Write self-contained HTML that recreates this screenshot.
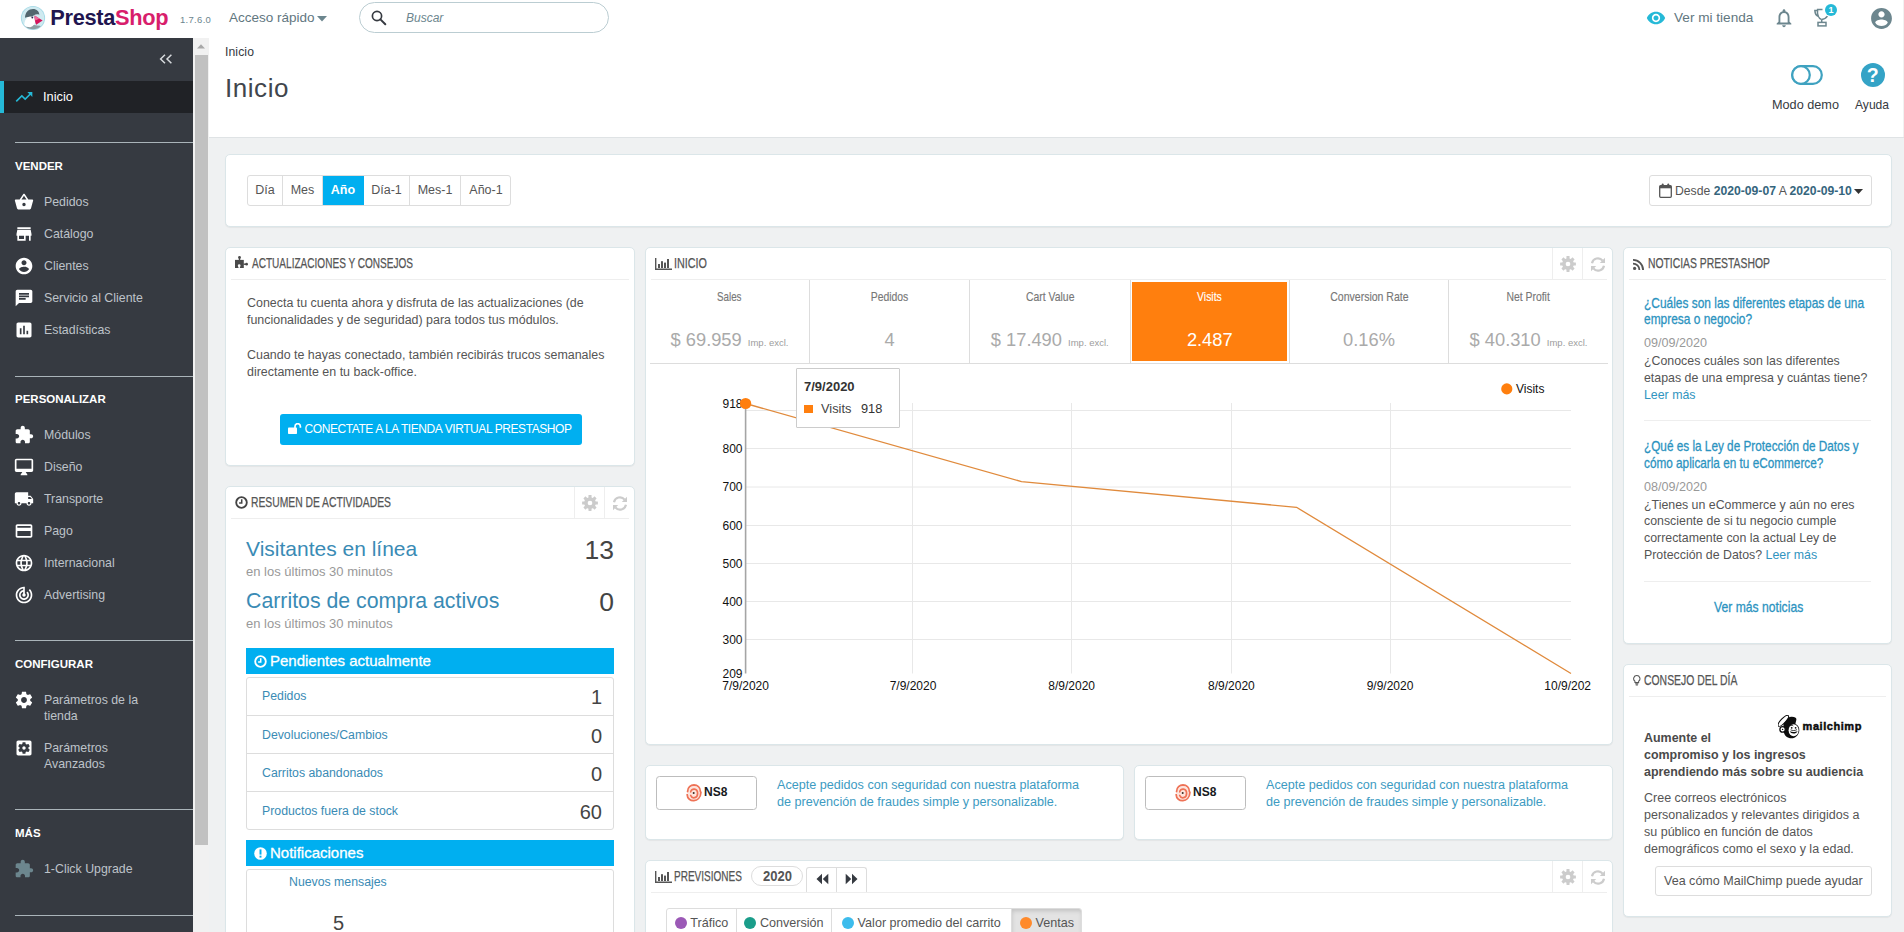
<!DOCTYPE html>
<html lang="es">
<head>
<meta charset="utf-8">
<title>Inicio • PrestaShop</title>
<style>
*{box-sizing:border-box;}
html,body{margin:0;padding:0;}
html{width:1904px;height:932px;overflow:hidden;}
body{width:1904px;height:932px;overflow:hidden;background:#eff1f2;font-family:"Liberation Sans",sans-serif;font-size:12px;color:#555;position:relative;}
a{text-decoration:none;color:#25b9d7;}
#app{position:absolute;left:0;top:0;width:1904px;height:932px;overflow:hidden;}
.abs{position:absolute;}
/* ---------- header ---------- */
#header{position:absolute;left:0;top:0;width:1904px;height:38px;background:#fff;}
#logo-txt{position:absolute;left:50.3px;top:4.8px;font-size:21.8px;line-height:26px;font-weight:bold;letter-spacing:-0.32px;color:#21154f;white-space:nowrap;}
#logo-txt span{color:#d81e6c;}
#version{position:absolute;left:180px;top:14px;font-size:9.5px;line-height:12px;color:#6c868e;letter-spacing:0.3px;}
#quick{position:absolute;left:229px;top:9px;font-size:13.5px;line-height:18px;color:#62777f;white-space:nowrap;}
#search{position:absolute;left:359px;top:2px;width:250px;height:31px;border:1px solid #bbcdd2;border-radius:16px;background:#fff;}
#search .ph{position:absolute;left:46px;top:8px;font-size:12px;font-style:italic;color:#6c868e;}
#vertienda{position:absolute;left:1674px;top:9px;font-size:13.6px;line-height:18px;color:#62777f;white-space:nowrap;}
/* ---------- sidebar ---------- */
#sidebar{position:absolute;left:0;top:38px;width:193px;height:894px;background:#363a41;color:#bec3c9;}
#sidebar .sep{position:absolute;left:15px;width:178px;height:1px;background:#aab4b9;}
#sidebar .cat{position:absolute;left:15px;font-size:11.5px;line-height:14px;font-weight:bold;color:#fff;letter-spacing:0px;}
#sidebar .it{position:absolute;left:44px;font-size:12.35px;line-height:16px;color:#bec3c9;white-space:nowrap;}
#sidebar .ic{position:absolute;left:15px;width:19px;height:19px;}
#sidebar .active{position:absolute;left:0;top:43px;width:193px;height:32px;background:#202226;border-left:4px solid #25b9d7;}
/* ---------- scrollbar ---------- */
#sb{position:absolute;left:193px;top:38px;width:16px;height:894px;background:#f1f1f1;}
#sb .thumb{position:absolute;left:2px;top:17px;width:13px;height:790px;background:#c1c1c1;}
/* ---------- page head ---------- */
#pagehead{position:absolute;left:209px;top:38px;width:1695px;height:100px;background:#fff;border-bottom:1px solid #dfe3e5;}
#crumb{position:absolute;left:16px;top:7px;font-size:12.2px;letter-spacing:0.1px;line-height:14px;color:#363a41;}
#title{position:absolute;left:16px;top:32.6px;font-size:26px;line-height:34px;color:#41464d;font-weight:normal;letter-spacing:0.55px;}
.tb-label{position:absolute;top:60px;font-size:12px;line-height:14px;color:#363a41;white-space:nowrap;}
/* ---------- panels ---------- */
.panel{position:absolute;background:#fff;border:1px solid #dbe6e9;border-radius:5px;box-shadow:0 1px 1px rgba(0,0,0,0.05);}
.ph{white-space:nowrap;}

.btng{position:absolute;height:31px;width:264px;border:1px solid #ddd;border-radius:3px;background:#fff;overflow:hidden;white-space:nowrap;font-size:0;}
.btng span{display:inline-block;height:29px;line-height:29px;text-align:center;font-size:12.5px;color:#555;border-right:1px solid #ddd;vertical-align:top;}
.btng span.on{background:#00aff0;color:#fff;font-weight:bold;border-right-color:#00aff0;}
.datebtn{position:absolute;left:1423px;top:20px;width:223px;height:31px;border:1px solid #ddd;border-radius:3px;background:#fff;}

.heading{-webkit-text-stroke:0.250px #555;position:absolute;top:7px;font-size:14px;line-height:16px;color:#555;white-space:nowrap;text-transform:uppercase;transform-origin:0 50%;}
.hline{position:absolute;left:5px;right:5px;top:31px;height:1px;background:#eee;}
.hbtn{position:absolute;top:0;width:30px;height:32px;border-left:1px solid #eee;}
.txt{position:absolute;white-space:nowrap;}
.bluebar{position:absolute;left:20px;width:368px;height:26px;background:#00aff0;color:#fff;}
.listbox{position:absolute;left:20px;width:368px;border:1px solid #ddd;border-radius:3px;background:#fff;}
.lrow{position:absolute;left:0;width:366px;height:38px;border-top:1px solid #ddd;}
.lrow .l{position:absolute;left:15px;top:12px;font-size:12.3px;line-height:14px;color:#3a8bb5;white-space:nowrap;}
.lrow .v{position:absolute;right:11px;top:8px;font-size:20px;line-height:24px;color:#444;}

.kpi{position:absolute;top:32px;height:83px;border-right:1px solid #ddd;}
.kpi .lab{position:absolute;left:0;right:0;top:8.5px;text-align:center;font-size:13px;line-height:16px;color:#777;white-space:nowrap;}
.kpi .lab span{display:inline-block;-webkit-text-stroke:0.15px currentColor;}
.kpi .val{position:absolute;left:0;right:0;top:48.7px;text-align:center;font-size:18.3px;line-height:22px;color:#aaa;white-space:nowrap;}
.kpi .val small{font-size:9.5px;color:#9d9d9d;margin-left:1px;}

.tabs span{display:inline-block;height:32px;line-height:29px;text-align:center;font-size:12.6px;color:#555;border-right:1px solid #ddd;vertical-align:top;}

.ntitle{-webkit-text-stroke:0.300px #2b93bf;position:absolute;left:20px;font-size:15px;line-height:16.7px;color:#2b93bf;white-space:nowrap;transform-origin:0 50%;}
.ndate{position:absolute;left:20px;font-size:12.6px;line-height:15px;color:#999;white-space:nowrap;}
.nbody{position:absolute;left:20px;font-size:12.37px;line-height:16.9px;color:#555;white-space:nowrap;}
.nbody a{color:#3094c0;}
</style>
</head>
<body>
<div id="app">

<!-- ================= HEADER ================= -->
<div id="header">
  <svg class="abs" style="left:20.1px;top:5px" width="26" height="26" viewBox="0 0 26 26">
    <defs><clipPath id="lc"><circle cx="13" cy="13" r="11.2"/></clipPath></defs>
    <circle cx="13" cy="13" r="12.1" fill="#a3d9e6"/>
    <circle cx="13" cy="13" r="11.2" fill="#cfeaf0"/>
    <g clip-path="url(#lc)">
      <path d="M3 26 L3 21 C7 19.5 17 19.5 22 21.5 L22 26Z" fill="#8c9da2"/>
      <path d="M5 12.8 C5 7.2 8.8 3.9 13 3.9 C16.8 3.9 19.2 6.4 19.4 9.8 C16.4 8.6 13.2 9.8 11.6 12.8 C9.8 11.6 6.8 11.6 5 12.8Z" fill="#52666e"/>
      <path d="M4.300 21.5 C4 15.5 6.600 11.600 10.300 11.400 C13 11.300 14.900 13 15.100 15.600 C15.200 18.800 13.600 21.300 10.200 22.300Z" fill="#fff"/>
      <path d="M14.600 10.400 L22.600 15.600 L16.200 19.800 C15 17.200 14.400 13.600 14.600 10.400Z" fill="#d4145a"/>
      <path d="M14.600 10.400 L19.500 13.600 L15.300 15.400Z" fill="#ef6b9a"/>
      <circle cx="12.3" cy="12.6" r="0.9" fill="#2d1f4f"/>
    </g>
  </svg>
  <div id="logo-txt">Presta<span>Shop</span></div>
  <div id="version">1.7.6.0</div>
  <div id="quick">Acceso rápido</div>
  <svg class="abs" style="left:317px;top:16px" width="10" height="6" viewBox="0 0 10 6"><path d="M0 0 L10 0 L5 5.5Z" fill="#6c868e"/></svg>
  <div id="search">
    <svg class="abs" style="left:11px;top:7px" width="16" height="16" viewBox="0 0 16 16"><circle cx="6" cy="6" r="4.6" fill="none" stroke="#363a41" stroke-width="1.7"/><path d="M9.4 9.4 L14.3 14.3" stroke="#363a41" stroke-width="2" stroke-linecap="round"/></svg>
    <div class="ph">Buscar</div>
  </div>
  <div id="vertienda">Ver mi tienda</div>

  <svg class="abs" style="left:1645.5px;top:7.5px" width="20" height="20" viewBox="0 0 24 24"><path fill="#25b9d7" d="M12 4.5C7 4.5 2.73 7.61 1 12c1.73 4.39 6 7.5 11 7.5s9.27-3.11 11-7.5c-1.73-4.39-6-7.5-11-7.5zM12 17c-2.76 0-5-2.24-5-5s2.24-5 5-5 5 2.24 5 5-2.24 5-5 5zm0-8c-1.66 0-3 1.34-3 3s1.34 3 3 3 3-1.34 3-3-1.34-3-3-3z"/></svg>
  <svg class="abs" style="left:1773px;top:6.5px" width="22" height="22" viewBox="0 0 24 24"><path fill="#6c868e" d="M12 22c1.1 0 2-.9 2-2h-4c0 1.1.9 2 2 2zm6-6v-5c0-3.07-1.63-5.64-4.5-6.32V4c0-.83-.67-1.5-1.5-1.5s-1.5.67-1.5 1.5v.68C7.64 5.36 6 7.92 6 11v5l-2 2v1h16v-1l-2-2zm-2 1H8v-6c0-2.48 1.51-4.5 4-4.5s4 2.02 4 4.5v6z"/></svg>
  <svg class="abs" style="left:1812px;top:7px" width="20" height="21" viewBox="0 0 20 21">
    <g fill="none" stroke="#6c868e" stroke-width="1.5">
      <path d="M10.5 2.4 H5.6 C5 7.5 6.2 11.3 9.7 12.6"/>
      <path d="M5.6 3.6 H2.9 C3 6.5 4.3 8.6 6.5 9.2"/>
      <path d="M9.7 12.6 C12.6 12.3 14.2 11 15.4 9.2"/>
      <path d="M9.7 12.6 V15.4"/>
      <rect x="6" y="15.4" width="8" height="3.5"/>
    </g>
  </svg>
  <div class="abs" style="left:1825px;top:4px;width:12px;height:12px;border-radius:6px;background:#25b9d7;color:#fff;font-size:9px;line-height:12px;text-align:center;font-weight:bold">1</div>
  <svg class="abs" style="left:1868.5px;top:5.5px" width="25" height="25" viewBox="0 0 24 24"><path fill="#6c868e" d="M12 2C6.48 2 2 6.48 2 12s4.48 10 10 10 10-4.48 10-10S17.52 2 12 2zm0 3c1.66 0 3 1.34 3 3s-1.34 3-3 3-3-1.34-3-3 1.34-3 3-3zm0 14.2c-2.5 0-4.71-1.28-6-3.22.03-1.99 4-3.08 6-3.08 1.99 0 5.97 1.09 6 3.08-1.29 1.94-3.5 3.22-6 3.22z"/></svg>
</div>

<!-- ================= SIDEBAR ================= -->
<div id="sidebar">
  <div class="active"></div>
  <svg class="abs" style="left:159px;top:16px" width="14" height="10" viewBox="0 0 14 10"><path d="M6 0.7 L1.6 5 L6 9.3 M12.4 0.7 L8 5 L12.4 9.3" fill="none" stroke="#d7dadd" stroke-width="1.5"/></svg>
  <svg class="ic" style="left:14px;top:49px;width:20px;height:20px" viewBox="0 0 24 24"><path fill="#25b9d7" d="M16 6l2.29 2.29-4.88 4.88-4-4L2 16.59 3.41 18l6-6 4 4 6.3-6.29L22 12V6z"/></svg>
  <div class="it" style="top:51px;left:43px;color:#fff;font-size:12.8px">Inicio</div>
  <div class="sep" style="top:104px"></div>
  <div class="cat" style="top:121px">VENDER</div>
  <svg class="ic" style="left:14px;top:154px;width:20px;height:20px" viewBox="0 0 24 24"><path fill="#fff" d="M17.21 9l-4.38-6.56c-.19-.28-.51-.42-.83-.42-.32 0-.64.14-.83.43L6.79 9H2c-.55 0-1 .45-1 1 0 .09.01.18.04.27l2.54 9.27c.23.84 1 1.46 1.92 1.46h13c.92 0 1.69-.62 1.93-1.46l2.54-9.27L23 10c0-.55-.45-1-1-1h-4.79zM9 9l3-4.4L15 9H9zm3 8c-1.1 0-2-.9-2-2s.9-2 2-2 2 .9 2 2-.9 2-2 2z"/></svg>
  <div class="it" style="top:155.5px">Pedidos</div>
  <svg class="ic" style="left:14px;top:186px;width:20px;height:20px" viewBox="0 0 24 24"><path fill="#fff" d="M20 4H4v2h16V4zm1 10v-2l-1-5H4l-1 5v2h1v6h10v-6h4v6h2v-6h1zm-9 4H6v-4h6v4z"/></svg>
  <div class="it" style="top:187.5px">Catálogo</div>
  <svg class="ic" style="left:14px;top:218px;width:20px;height:20px" viewBox="0 0 24 24"><path fill="#fff" d="M12 2C6.48 2 2 6.48 2 12s4.48 10 10 10 10-4.48 10-10S17.52 2 12 2zm0 3c1.66 0 3 1.34 3 3s-1.34 3-3 3-3-1.34-3-3 1.34-3 3-3zm0 14.2c-2.5 0-4.71-1.28-6-3.22.03-1.99 4-3.08 6-3.08 1.99 0 5.97 1.09 6 3.08-1.29 1.94-3.5 3.22-6 3.22z"/></svg>
  <div class="it" style="top:219.5px">Clientes</div>
  <svg class="ic" style="left:14px;top:250px;width:20px;height:20px" viewBox="0 0 24 24"><path fill="#fff" d="M20 2H4c-1.1 0-1.99.9-1.99 2L2 22l4-4h14c1.1 0 2-.9 2-2V4c0-1.1-.9-2-2-2zM6 9h12v2H6V9zm8 5H6v-2h8v2zm4-6H6V6h12v2z"/></svg>
  <div class="it" style="top:251.5px">Servicio al Cliente</div>
  <svg class="ic" style="left:14px;top:282px;width:20px;height:20px" viewBox="0 0 24 24"><path fill="#fff" d="M19 3H5c-1.1 0-2 .9-2 2v14c0 1.1.9 2 2 2h14c1.1 0 2-.9 2-2V5c0-1.1-.9-2-2-2zM9 17H7v-7h2v7zm4 0h-2V7h2v10zm4 0h-2v-4h2v4z"/></svg>
  <div class="it" style="top:283.5px">Estadísticas</div>
  <div class="sep" style="top:338px"></div>
  <div class="cat" style="top:354px">PERSONALIZAR</div>
  <svg class="ic" style="left:14px;top:387px;width:20px;height:20px" viewBox="0 0 24 24"><path fill="#fff" d="M20.5 11H19V7c0-1.1-.9-2-2-2h-4V3.5C13 2.12 11.88 1 10.5 1S8 2.12 8 3.5V5H4c-1.1 0-1.99.9-1.99 2v3.8H3.5c1.49 0 2.7 1.21 2.7 2.7s-1.21 2.7-2.7 2.7H2V20c0 1.1.9 2 2 2h3.8v-1.5c0-1.49 1.21-2.7 2.7-2.7 1.49 0 2.7 1.21 2.7 2.7V22H17c1.1 0 2-.9 2-2v-4h1.5c1.38 0 2.5-1.12 2.5-2.5S21.88 11 20.5 11z"/></svg>
  <div class="it" style="top:388.5px">Módulos</div>
  <svg class="ic" style="left:14px;top:419px;width:20px;height:20px" viewBox="0 0 24 24"><path fill="#fff" d="M21 2H3c-1.1 0-2 .9-2 2v12c0 1.1.9 2 2 2h7l-2 3v1h8v-1l-2-3h7c1.1 0 2-.9 2-2V4c0-1.1-.9-2-2-2zm0 12H3V4h18v10z"/></svg>
  <div class="it" style="top:420.5px">Diseño</div>
  <svg class="ic" style="left:14px;top:451px;width:20px;height:20px" viewBox="0 0 24 24"><path fill="#fff" d="M20 8h-3V4H3c-1.1 0-2 .9-2 2v11h2c0 1.66 1.34 3 3 3s3-1.34 3-3h6c0 1.66 1.34 3 3 3s3-1.34 3-3h2v-5l-3-4zM6 18.5c-.83 0-1.5-.67-1.5-1.5s.67-1.5 1.5-1.5 1.5.67 1.5 1.5-.67 1.5-1.5 1.5zm13.5-9l1.96 2.5H17V9.5h2.5zm-1.5 9c-.83 0-1.5-.67-1.5-1.5s.67-1.5 1.5-1.5 1.5.67 1.5 1.5-.67 1.5-1.5 1.5z"/></svg>
  <div class="it" style="top:452.5px">Transporte</div>
  <svg class="ic" style="left:14px;top:483px;width:20px;height:20px" viewBox="0 0 24 24"><path fill="#fff" d="M20 4H4c-1.11 0-1.99.89-1.99 2L2 18c0 1.11.89 2 2 2h16c1.11 0 2-.89 2-2V6c0-1.11-.89-2-2-2zm0 14H4v-6h16v6zm0-10H4V6h16v2z"/></svg>
  <div class="it" style="top:484.5px">Pago</div>
  <svg class="ic" style="left:14px;top:515px;width:20px;height:20px" viewBox="0 0 24 24"><path fill="#fff" d="M11.99 2C6.47 2 2 6.48 2 12s4.47 10 9.99 10C17.52 22 22 17.52 22 12S17.52 2 11.99 2zm6.93 6h-2.95c-.32-1.25-.78-2.45-1.38-3.56 1.84.63 3.37 1.91 4.33 3.56zM12 4.04c.83 1.2 1.48 2.53 1.91 3.96h-3.82c.43-1.43 1.08-2.76 1.91-3.96zM4.26 14C4.1 13.36 4 12.69 4 12s.1-1.36.26-2h3.38c-.08.66-.14 1.32-.14 2 0 .68.06 1.34.14 2H4.26zm.82 2h2.95c.32 1.25.78 2.45 1.38 3.56-1.84-.63-3.37-1.9-4.33-3.56zm2.95-8H5.08c.96-1.66 2.49-2.93 4.33-3.56C8.81 5.55 8.35 6.75 8.03 8zM12 19.96c-.83-1.2-1.48-2.53-1.91-3.96h3.82c-.43 1.43-1.08 2.76-1.91 3.96zM14.34 14H9.66c-.09-.66-.16-1.32-.16-2 0-.68.07-1.35.16-2h4.68c.09.65.16 1.32.16 2 0 .68-.07 1.34-.16 2zm.25 5.56c.6-1.11 1.06-2.31 1.38-3.56h2.95c-.96 1.65-2.49 2.93-4.33 3.56zM16.36 14c.08-.66.14-1.32.14-2 0-.68-.06-1.34-.14-2h3.38c.16.64.26 1.31.26 2s-.1 1.36-.26 2h-3.38z"/></svg>
  <div class="it" style="top:516.5px">Internacional</div>
  <svg class="ic" style="left:14px;top:547px;width:20px;height:20px" viewBox="0 0 24 24"><path fill="#fff" d="M19.07 4.93l-1.41 1.41C19.1 7.79 20 9.79 20 12c0 4.42-3.58 8-8 8s-8-3.58-8-8c0-4.08 3.05-7.44 7-7.93v2.02C8.16 6.57 6 9.03 6 12c0 3.31 2.69 6 6 6s6-2.69 6-6c0-1.66-.67-3.16-1.76-4.24l-1.41 1.41C15.55 9.9 16 10.9 16 12c0 2.21-1.79 4-4 4s-4-1.79-4-4c0-1.86 1.28-3.41 3-3.86v2.14c-.6.35-1 .98-1 1.72 0 1.1.9 2 2 2s2-.9 2-2c0-.74-.4-1.38-1-1.72V2h-1C6.48 2 2 6.48 2 12s4.48 10 10 10 10-4.48 10-10c0-2.76-1.12-5.26-2.93-7.07z"/></svg>
  <div class="it" style="top:548.5px">Advertising</div>
  <div class="sep" style="top:602px"></div>
  <div class="cat" style="top:619px">CONFIGURAR</div>
  <svg class="ic" style="left:14px;top:652px;width:20px;height:20px" viewBox="0 0 24 24"><path fill="#fff" d="M19.43 12.98c.04-.32.07-.64.07-.98s-.03-.66-.07-.98l2.11-1.65c.19-.15.24-.42.12-.64l-2-3.46c-.12-.22-.39-.3-.61-.22l-2.49 1c-.52-.4-1.08-.73-1.69-.98l-.38-2.65C14.46 2.18 14.25 2 14 2h-4c-.25 0-.46.18-.49.42l-.38 2.65c-.61.25-1.17.59-1.69.98l-2.49-1c-.23-.09-.49 0-.61.22l-2 3.46c-.13.22-.07.49.12.64l2.11 1.65c-.04.32-.07.65-.07.98s.03.66.07.98l-2.11 1.65c-.19.15-.24.42-.12.64l2 3.46c.12.22.39.3.61.22l2.49-1c.52.4 1.08.73 1.69.98l.38 2.65c.03.24.24.42.49.42h4c.25 0 .46-.18.49-.42l.38-2.65c.61-.25 1.17-.59 1.69-.98l2.49 1c.23.09.49 0 .61-.22l2-3.46c.12-.22.07-.49-.12-.64l-2.11-1.65zM12 15.5c-1.93 0-3.5-1.57-3.5-3.5s1.57-3.5 3.5-3.5 3.5 1.57 3.5 3.5-1.57 3.5-3.5 3.5z"/></svg>
  <div class="it" style="top:653.5px">Parámetros de la<br>tienda</div>
  <svg class="ic" style="left:14px;top:700px;width:20px;height:20px" viewBox="0 0 24 24"><path fill="#fff" d="M12 10c-1.1 0-2 .9-2 2s.9 2 2 2 2-.9 2-2-.9-2-2-2zm7-7H5c-1.11 0-2 .9-2 2v14c0 1.1.89 2 2 2h14c1.11 0 2-.9 2-2V5c0-1.1-.89-2-2-2zm-1.75 9c0 .23-.02.46-.05.68l1.48 1.16c.13.11.17.3.08.45l-1.4 2.42c-.09.15-.27.21-.43.15l-1.74-.7c-.36.28-.76.51-1.18.69l-.26 1.85c-.03.17-.18.3-.35.3h-2.8c-.17 0-.32-.13-.35-.29l-.26-1.85c-.43-.18-.82-.41-1.18-.69l-1.74.7c-.16.06-.34 0-.43-.15l-1.4-2.42c-.09-.15-.05-.34.08-.45l1.48-1.16c-.03-.23-.05-.46-.05-.69 0-.23.02-.46.05-.68l-1.48-1.16c-.13-.11-.17-.3-.08-.45l1.4-2.42c.09-.15.27-.21.43-.15l1.74.7c.36-.28.76-.51 1.18-.69l.26-1.85c.03-.17.18-.3.35-.3h2.8c.17 0 .32.13.35.29l.26 1.85c.43.18.82.41 1.18.69l1.74-.7c.16-.06.34 0 .43.15l1.4 2.42c.09.15.05.34-.08.45l-1.48 1.16c.03.23.05.46.05.69z"/></svg>
  <div class="it" style="top:701.5px">Parámetros<br>Avanzados</div>
  <div class="sep" style="top:771px"></div>
  <div class="cat" style="top:788px">MÁS</div>
  <svg class="ic" style="left:14px;top:821px;width:20px;height:20px" viewBox="0 0 24 24"><path fill="#6c868e" d="M20.5 11H19V7c0-1.1-.9-2-2-2h-4V3.5C13 2.12 11.88 1 10.5 1S8 2.12 8 3.5V5H4c-1.1 0-1.99.9-1.99 2v3.8H3.5c1.49 0 2.7 1.21 2.7 2.7s-1.21 2.7-2.7 2.7H2V20c0 1.1.9 2 2 2h3.8v-1.5c0-1.49 1.21-2.7 2.7-2.7 1.49 0 2.7 1.21 2.7 2.7V22H17c1.1 0 2-.9 2-2v-4h1.5c1.38 0 2.5-1.12 2.5-2.5S21.88 11 20.5 11z"/></svg>
  <div class="it" style="top:822.5px">1-Click Upgrade</div>
  <div class="sep" style="top:877px"></div>
</div>
<div id="sb"><svg class="abs" style="left:4px;top:6px" width="8" height="5" viewBox="0 0 8 5"><path d="M0 4.500 L4 0.300 L8 4.500Z" fill="#a8a8a8"/></svg><div class="thumb"></div></div>

<!-- ================= PAGE HEAD ================= -->
<div id="pagehead">
  <div id="crumb">Inicio</div>
  <div id="title">Inicio</div>

  <svg class="abs" style="left:1581px;top:26px" width="34" height="22" viewBox="0 0 34 22">
    <rect x="2.2" y="2.2" width="29.6" height="17.6" rx="8.8" fill="#fff" stroke="#3fa2c0" stroke-width="2.2"/>
    <circle cx="11" cy="11" r="8.8" fill="#fff" stroke="#3fa2c0" stroke-width="2.2"/>
  </svg>
  <div class="abs" style="left:1651.9px;top:24.9px;width:23.8px;height:23.8px;border-radius:12px;background:#34a3c6;color:#fff;font-weight:bold;font-size:19.5px;line-height:24.5px;text-align:center">?</div>
  <div class="tb-label" style="left:1563px;font-size:12.7px">Modo demo</div>
  <div class="tb-label" style="left:1646px;font-size:12.1px">Ayuda</div>
</div>

<div class="abs" style="left:1903px;top:0;width:1px;height:137px;background:#f1f1f1"></div>
<!-- ================= PANELS ================= -->
<div class="panel" id="p-date" style="left:225px;top:154px;width:1667px;height:73px">
  <div class="btng" style="left:21px;top:20px">
    <span style="width:35px">Día</span><span style="width:40px">Mes</span><span class="on" style="width:41px">Año</span><span style="width:46px">Día-1</span><span style="width:51px">Mes-1</span><span style="width:50px;border-right:0">Año-1</span>
  </div>
  <div class="datebtn">
    <svg class="abs" style="left:9px;top:7px" width="13" height="15" viewBox="0 0 13 15"><rect x="0.7" y="2.7" width="11.6" height="11.6" rx="1" fill="none" stroke="#555" stroke-width="1.3"/><rect x="0.7" y="2.7" width="11.6" height="2.6" fill="#555"/><rect x="2.8" y="0.5" width="1.8" height="3.6" rx="0.8" fill="#555"/><rect x="8.4" y="0.5" width="1.8" height="3.6" rx="0.8" fill="#555"/></svg>
    <span class="abs" style="left:25px;top:8px;white-space:nowrap;font-size:12.2px;line-height:14px;color:#555">Desde <b style="color:#35657d">2020-09-07</b> A <b style="color:#35657d">2020-09-10</b></span>
    <svg class="abs" style="left:204px;top:13px" width="9" height="5" viewBox="0 0 9 5"><path d="M0 0 L9 0 L4.5 5Z" fill="#333"/></svg>
  </div>
</div>
<div class="panel" id="p-tips" style="left:225px;top:247px;width:410px;height:219px">
  <svg class="abs" style="left:9px;top:8px" width="13" height="12" viewBox="0 0 13 12"><rect x="0" y="3.9" width="8.8" height="8.1" fill="#4a4a4a"/><circle cx="4.5" cy="1.4" r="1.4" fill="#4a4a4a"/><rect x="3.8" y="2" width="1.4" height="2.5" fill="#4a4a4a"/><circle cx="11.6" cy="8.2" r="1.35" fill="#4a4a4a"/><rect x="8.5" y="7.5" width="2.6" height="1.4" fill="#4a4a4a"/><circle cx="4.2" cy="9.7" r="1.35" fill="#fff"/><rect x="3.5" y="10" width="1.4" height="2.1" fill="#fff"/></svg>
  <div class="heading" style="left:26px;transform:scaleX(0.718)">Actualizaciones y consejos</div>
  <div class="hline"></div>
  <div class="txt" style="left:21px;top:47px;font-size:12.45px;line-height:17.3px;color:#555">Conecta tu cuenta ahora y disfruta de las actualizaciones (de<br>funcionalidades y de seguridad) para todos tus módulos.</div>
  <div class="txt" style="left:21px;top:98.5px;font-size:12.45px;line-height:17.3px;color:#555">Cuando te hayas conectado, también recibirás trucos semanales<br>directamente en tu back-office.</div>
  <div class="abs" style="left:53.5px;top:166.3px;width:302px;height:31px;background:#00aff0;border-radius:3px">
    <svg class="abs" style="left:8.5px;top:9px" width="14" height="11" viewBox="0 0 14 11"><rect x="0" y="4.6" width="9" height="6.4" rx="0.8" fill="#fff"/><path d="M7 5 V3.4 A2.7 2.7 0 0 1 12.4 3.4 V4.8" fill="none" stroke="#fff" stroke-width="1.7"/></svg>
    <div class="txt" style="left:25px;top:8px;font-size:12px;line-height:15px;color:#fff;letter-spacing:-0.42px">CONECTATE A LA TIENDA VIRTUAL PRESTASHOP</div>
  </div>
</div>
<div class="panel" id="p-act" style="left:225px;top:486px;width:410px;height:470px">
  <svg class="abs" style="left:9px;top:9px" width="13" height="13" viewBox="0 0 12 12"><circle cx="6" cy="6" r="4.9" fill="none" stroke="#444" stroke-width="1.7"/><path d="M6.2 3 V6.4 H3.8" fill="none" stroke="#444" stroke-width="1.4"/></svg>
  <div class="heading" style="left:25px;transform:scaleX(0.737)">Resumen de actividades</div>
  <div class="hline"></div>
  <div class="hbtn" style="left:348px"><svg class="abs" style="left:6.5px;top:8px" width="16" height="16" viewBox="-8 -8 16 16"><circle r="4.1" fill="none" stroke="#ccc" stroke-width="3.5"/><rect x="-1.55" y="-7.9" width="3.1" height="3.4" rx="0.4" fill="#ccc" transform="rotate(0)"/><rect x="-1.55" y="-7.9" width="3.1" height="3.4" rx="0.4" fill="#ccc" transform="rotate(45)"/><rect x="-1.55" y="-7.9" width="3.1" height="3.4" rx="0.4" fill="#ccc" transform="rotate(90)"/><rect x="-1.55" y="-7.9" width="3.1" height="3.4" rx="0.4" fill="#ccc" transform="rotate(135)"/><rect x="-1.55" y="-7.9" width="3.1" height="3.4" rx="0.4" fill="#ccc" transform="rotate(180)"/><rect x="-1.55" y="-7.9" width="3.1" height="3.4" rx="0.4" fill="#ccc" transform="rotate(225)"/><rect x="-1.55" y="-7.9" width="3.1" height="3.4" rx="0.4" fill="#ccc" transform="rotate(270)"/><rect x="-1.55" y="-7.9" width="3.1" height="3.4" rx="0.4" fill="#ccc" transform="rotate(315)"/></svg></div>
  <div class="hbtn" style="left:378px"><svg class="abs" style="left:7px;top:9px" width="16" height="15" viewBox="0 0 16 15"><g fill="none" stroke="#ccc" stroke-width="2.2"><path d="M2 6.2 A6 6 0 0 1 12.6 3.6"/><path d="M14 8.8 A6 6 0 0 1 3.4 11.4"/></g><path d="M15 0.8 V6 H9.8Z M1 14.2 V9 H6.2Z" fill="#ccc"/></svg></div>
  <div class="txt" style="left:20px;top:49px;font-size:21px;line-height:26px;color:#3a8bb5">Visitantes en línea</div>
  <div class="txt" style="right:20px;top:46px;font-size:26.5px;line-height:34px;color:#444">13</div>
  <div class="txt" style="left:20px;top:77px;font-size:13px;line-height:16px;color:#999">en los últimos 30 minutos</div>
  <div class="txt" style="left:20px;top:101px;font-size:21.3px;line-height:26px;color:#3a8bb5">Carritos de compra activos</div>
  <div class="txt" style="right:20px;top:98px;font-size:26.5px;line-height:34px;color:#444">0</div>
  <div class="txt" style="left:20px;top:129px;font-size:13px;line-height:16px;color:#999">en los últimos 30 minutos</div>
  <div class="bluebar" style="top:161px"><svg class="abs" style="left:7.5px;top:6.5px" width="13" height="13" viewBox="0 0 12 12"><circle cx="6" cy="6" r="4.9" fill="none" stroke="#fff" stroke-width="1.7"/><path d="M6.2 3 V6.4 H3.8" fill="none" stroke="#fff" stroke-width="1.4"/></svg><div class="txt" style="left:24px;top:4px;font-size:15px;line-height:18px;-webkit-text-stroke:0.3px #fff">Pendientes actualmente</div></div>
  <div class="listbox" style="top:190px;height:153px">
    <div class="lrow" style="top:-1px;border-top:0"><span class="l">Pedidos</span><span class="v">1</span></div>
    <div class="lrow" style="top:37px"><span class="l">Devoluciones/Cambios</span><span class="v">0</span></div>
    <div class="lrow" style="top:75px"><span class="l">Carritos abandonados</span><span class="v">0</span></div>
    <div class="lrow" style="top:113px"><span class="l">Productos fuera de stock</span><span class="v">60</span></div>
  </div>
  <div class="bluebar" style="top:353px">
    <svg class="abs" style="left:7.5px;top:6.5px" width="13" height="13" viewBox="0 0 12 12"><circle cx="6" cy="6" r="5.8" fill="#fff"/><rect x="5.1" y="2.2" width="1.8" height="4.8" fill="#00aff0"/><rect x="5.1" y="8" width="1.8" height="1.8" fill="#00aff0"/></svg>
    <div class="txt" style="left:24px;top:4px;font-size:15px;line-height:18px;-webkit-text-stroke:0.3px #fff">Notificaciones</div>
  </div>
  <div class="listbox" style="top:382px;height:100px">
    <div class="txt" style="left:42px;top:5px;font-size:12.3px;line-height:14px;color:#3a8bb5">Nuevos mensajes</div>
    <div class="txt" style="left:86px;top:41px;font-size:20px;line-height:24px;color:#444">5</div>
  </div>
</div>
<div class="panel" id="p-main" style="left:645px;top:247px;width:968px;height:498px">
  <svg class="abs" style="left:8.5px;top:9.5px" width="17" height="12" viewBox="0 0 17 12"><path d="M0.7 0 V11.3 H17" fill="none" stroke="#555" stroke-width="1.4"/><rect x="3" y="6" width="2" height="4" fill="#555"/><rect x="6" y="3.2" width="2" height="6.8" fill="#555"/><rect x="9" y="4.6" width="2" height="5.4" fill="#555"/><rect x="12" y="1" width="2" height="9" fill="#555"/></svg>
  <div class="heading" style="left:28px;transform:scaleX(0.771)">Inicio</div>
  <div class="hline"></div>
  <div class="hbtn" style="left:906px"><svg class="abs" style="left:6.5px;top:8px" width="16" height="16" viewBox="-8 -8 16 16"><circle r="4.1" fill="none" stroke="#ccc" stroke-width="3.5"/><rect x="-1.55" y="-7.9" width="3.1" height="3.4" rx="0.4" fill="#ccc" transform="rotate(0)"/><rect x="-1.55" y="-7.9" width="3.1" height="3.4" rx="0.4" fill="#ccc" transform="rotate(45)"/><rect x="-1.55" y="-7.9" width="3.1" height="3.4" rx="0.4" fill="#ccc" transform="rotate(90)"/><rect x="-1.55" y="-7.9" width="3.1" height="3.4" rx="0.4" fill="#ccc" transform="rotate(135)"/><rect x="-1.55" y="-7.9" width="3.1" height="3.4" rx="0.4" fill="#ccc" transform="rotate(180)"/><rect x="-1.55" y="-7.9" width="3.1" height="3.4" rx="0.4" fill="#ccc" transform="rotate(225)"/><rect x="-1.55" y="-7.9" width="3.1" height="3.4" rx="0.4" fill="#ccc" transform="rotate(270)"/><rect x="-1.55" y="-7.9" width="3.1" height="3.4" rx="0.4" fill="#ccc" transform="rotate(315)"/></svg></div>
  <div class="hbtn" style="left:936px"><svg class="abs" style="left:7px;top:9px" width="16" height="15" viewBox="0 0 16 15"><g fill="none" stroke="#ccc" stroke-width="2.2"><path d="M2 6.2 A6 6 0 0 1 12.6 3.6"/><path d="M14 8.8 A6 6 0 0 1 3.4 11.4"/></g><path d="M15 0.8 V6 H9.8Z M1 14.2 V9 H6.2Z" fill="#ccc"/></svg></div>
  <div class="kpi" style="left:4px;width:160px;"><div class="lab"><span style="transform:scaleX(0.753)">Sales</span></div><div class="val">$ 69.959 <small>Imp. excl.</small></div></div>
  <div class="kpi" style="left:164px;width:160px;"><div class="lab"><span style="transform:scaleX(0.8)">Pedidos</span></div><div class="val">4</div></div>
  <div class="kpi" style="left:324px;width:160.5px;"><div class="lab"><span style="transform:scaleX(0.8)">Cart Value</span></div><div class="val">$ 17.490 <small>Imp. excl.</small></div></div>
  <div class="kpi" style="left:484.5px;width:159.5px"><div class="abs" style="left:1.5px;top:2px;width:155px;height:79px;background:#ff7f0e"></div><div class="lab" style="color:#fff"><span style="transform:scaleX(0.8)">Visits</span></div><div class="val" style="color:#fff">2.487</div></div>
  <div class="kpi" style="left:644px;width:159px;"><div class="lab"><span style="transform:scaleX(0.809)">Conversion Rate</span></div><div class="val">0.16%</div></div>
  <div class="kpi" style="left:803px;width:159px;border-right:0"><div class="lab"><span style="transform:scaleX(0.8)">Net Profit</span></div><div class="val">$ 40.310 <small>Imp. excl.</small></div></div>
  <div class="abs" style="left:4px;top:115px;width:958px;height:1px;background:#ddd"></div>
  <svg class="abs" style="left:0;top:116px" width="945" height="380" viewBox="646 364 945 380" font-family="Liberation Sans, sans-serif" font-size="12">
  <path d="M746 410.5 H1571" stroke="#e8e8e8" stroke-width="1"/>
  <path d="M746 448.5 H1571" stroke="#e8e8e8" stroke-width="1"/>
  <path d="M746 487 H1571" stroke="#e8e8e8" stroke-width="1"/>
  <path d="M746 525.5 H1571" stroke="#e8e8e8" stroke-width="1"/>
  <path d="M746 563.5 H1571" stroke="#e8e8e8" stroke-width="1"/>
  <path d="M746 601.5 H1571" stroke="#e8e8e8" stroke-width="1"/>
  <path d="M746 639.5 H1571" stroke="#e8e8e8" stroke-width="1"/>
  
  <path d="M912.5 403 V673.5" stroke="#e8e8e8" stroke-width="1"/>
  <path d="M1071.5 403 V673.5" stroke="#e8e8e8" stroke-width="1"/>
  <path d="M1231.5 403 V673.5" stroke="#e8e8e8" stroke-width="1"/>
  <path d="M1390.5 403 V673.5" stroke="#e8e8e8" stroke-width="1"/>
  <path d="M745.6 403 V673.5" stroke="#a5a5a5" stroke-width="1.6"/>
  <text x="742.5" y="407.7" text-anchor="end" fill="#111">918</text>
  <text x="742.5" y="452.7" text-anchor="end" fill="#111">800</text>
  <text x="742.5" y="491" text-anchor="end" fill="#111">700</text>
  <text x="742.5" y="529.7" text-anchor="end" fill="#111">600</text>
  <text x="742.5" y="567.7" text-anchor="end" fill="#111">500</text>
  <text x="742.5" y="605.7" text-anchor="end" fill="#111">400</text>
  <text x="742.5" y="643.7" text-anchor="end" fill="#111">300</text>
  <text x="742.5" y="677.7" text-anchor="end" fill="#111">209</text>
  <text x="745.6" y="689.6" text-anchor="middle" fill="#111">7/9/2020</text>
  <text x="913" y="689.6" text-anchor="middle" fill="#111">7/9/2020</text>
  <text x="1071.7" y="689.6" text-anchor="middle" fill="#111">8/9/2020</text>
  <text x="1231.4" y="689.6" text-anchor="middle" fill="#111">8/9/2020</text>
  <text x="1390" y="689.6" text-anchor="middle" fill="#111">9/9/2020</text>
  <text x="1571" y="689.6" text-anchor="middle" fill="#111">10/9/2020</text>
  <path d="M745.6 403.5 L1021.5 481.6 L1296.5 507.3 L1571 673.5" fill="none" stroke="#e08a3c" stroke-width="1.3" stroke-linejoin="round"/>
  <circle cx="745.6" cy="403.5" r="5.6" fill="#ff7f0e"/>
  <circle cx="1506.8" cy="388.9" r="5.6" fill="#ff7f0e"/>
  <text x="1516" y="393.2" fill="#111">Visits</text>
  </svg>
  <div class="abs" style="left:150px;top:120px;width:104px;height:60px;background:#fff;border:1px solid #ccc;border-radius:1px">
    <div class="txt" style="left:7px;top:9.5px;font-size:13px;line-height:15px;font-weight:bold;color:#333">7/9/2020</div>
    <div class="abs" style="left:7px;top:35.5px;width:8.5px;height:8.5px;background:#ff7f0e"></div>
    <div class="txt" style="left:24px;top:32px;font-size:12.8px;line-height:15px;color:#444">Visits</div>
    <div class="txt" style="left:64px;top:32px;font-size:12.8px;line-height:15px;color:#333">918</div>
  </div>
</div>
<div class="panel" id="p-ns1" style="left:645px;top:765px;width:479px;height:75px">
  <div class="abs" style="left:10px;top:10px;width:101px;height:34px;border:1px solid #bdbdbd;border-radius:3.5px;background:#fff">
    <svg class="abs" style="left:28.5px;top:6.5px" width="16" height="18" viewBox="0 0 16 18"><ellipse cx="8" cy="9" rx="6" ry="7" fill="#fde4dc"/><g fill="none" stroke="#ee7256" stroke-linecap="round"><path d="M1.6 7.5 C1.6 -1.2 14.4 -1.2 14.4 7.5" stroke-width="1.8"/><path d="M1.2 10.6 C1.5 19 14.3 19 14.9 8.5" stroke-width="1.8"/><path d="M4.7 11.5 C6 15 11.5 14.5 11.6 9.5 C11.6 3.8 5 4.2 4.8 7.8" stroke-width="1.7"/></g><circle cx="7.7" cy="9" r="1" fill="#3a2a20"/></svg>
    <div class="txt" style="left:47px;top:7.700px;font-size:12px;line-height:15px;font-weight:bold;color:#17191c">NS8</div>
  </div>
  <div class="txt" style="left:131px;top:11.2px;font-size:12.62px;line-height:17.3px;color:#3d9bc2">Acepte pedidos con seguridad con nuestra plataforma<br>de prevención de fraudes simple y personalizable.</div>
</div>
<div class="panel" id="p-ns2" style="left:1134px;top:765px;width:479px;height:75px">
  <div class="abs" style="left:10px;top:10px;width:101px;height:34px;border:1px solid #bdbdbd;border-radius:3.5px;background:#fff">
    <svg class="abs" style="left:28.5px;top:6.5px" width="16" height="18" viewBox="0 0 16 18"><ellipse cx="8" cy="9" rx="6" ry="7" fill="#fde4dc"/><g fill="none" stroke="#ee7256" stroke-linecap="round"><path d="M1.6 7.5 C1.6 -1.2 14.4 -1.2 14.4 7.5" stroke-width="1.8"/><path d="M1.2 10.6 C1.5 19 14.3 19 14.9 8.5" stroke-width="1.8"/><path d="M4.7 11.5 C6 15 11.5 14.5 11.6 9.5 C11.6 3.8 5 4.2 4.8 7.8" stroke-width="1.7"/></g><circle cx="7.7" cy="9" r="1" fill="#3a2a20"/></svg>
    <div class="txt" style="left:47px;top:7.700px;font-size:12px;line-height:15px;font-weight:bold;color:#17191c">NS8</div>
  </div>
  <div class="txt" style="left:131px;top:11.2px;font-size:12.62px;line-height:17.3px;color:#3d9bc2">Acepte pedidos con seguridad con nuestra plataforma<br>de prevención de fraudes simple y personalizable.</div>
</div>
<div class="panel" id="p-prev" style="left:645px;top:860px;width:968px;height:100px">
  <svg class="abs" style="left:8.5px;top:9.5px" width="17" height="12" viewBox="0 0 17 12"><path d="M0.7 0 V11.3 H17" fill="none" stroke="#555" stroke-width="1.4"/><rect x="3" y="6" width="2" height="4" fill="#555"/><rect x="6" y="3.2" width="2" height="6.8" fill="#555"/><rect x="9" y="4.6" width="2" height="5.4" fill="#555"/><rect x="12" y="1" width="2" height="9" fill="#555"/></svg>
  <div class="heading" style="left:28px;transform:scaleX(0.716)">Previsiones</div>
  <div class="abs" style="left:105px;top:4.5px;width:52px;height:20px;border:1px solid #ddd;border-radius:10px;background:#fff"><div class="txt" style="left:10.5px;top:1px;font-size:14px;line-height:16px;font-weight:bold;color:#555;transform:scaleX(0.93);transform-origin:0 50%">2020</div></div>
  <div class="abs" style="left:160px;top:6px;width:61px;height:26px;border:1px solid #ddd;border-bottom:0;border-radius:3px 3px 0 0;background:#fff">
    <div class="abs" style="left:29px;top:0;width:1px;height:25px;background:#ddd"></div>
    <svg class="abs" style="left:9px;top:4.5px" width="13" height="12" viewBox="0 0 13 12"><path d="M6 0.8 V11.2 L0.5 6Z M12.3 0.8 V11.2 L6.8 6Z" fill="#363a41"/></svg>
    <svg class="abs" style="left:38px;top:4.5px" width="13" height="12" viewBox="0 0 13 12"><path d="M0.7 0.8 V11.2 L6.2 6Z M7 0.8 V11.2 L12.5 6Z" fill="#363a41"/></svg>
  </div>
  <div class="hline"></div>
  <div class="hbtn" style="left:906px"><svg class="abs" style="left:6.5px;top:8px" width="16" height="16" viewBox="-8 -8 16 16"><circle r="4.1" fill="none" stroke="#ccc" stroke-width="3.5"/><rect x="-1.55" y="-7.9" width="3.1" height="3.4" rx="0.4" fill="#ccc" transform="rotate(0)"/><rect x="-1.55" y="-7.9" width="3.1" height="3.4" rx="0.4" fill="#ccc" transform="rotate(45)"/><rect x="-1.55" y="-7.9" width="3.1" height="3.4" rx="0.4" fill="#ccc" transform="rotate(90)"/><rect x="-1.55" y="-7.9" width="3.1" height="3.4" rx="0.4" fill="#ccc" transform="rotate(135)"/><rect x="-1.55" y="-7.9" width="3.1" height="3.4" rx="0.4" fill="#ccc" transform="rotate(180)"/><rect x="-1.55" y="-7.9" width="3.1" height="3.4" rx="0.4" fill="#ccc" transform="rotate(225)"/><rect x="-1.55" y="-7.9" width="3.1" height="3.4" rx="0.4" fill="#ccc" transform="rotate(270)"/><rect x="-1.55" y="-7.9" width="3.1" height="3.4" rx="0.4" fill="#ccc" transform="rotate(315)"/></svg></div>
  <div class="hbtn" style="left:936px"><svg class="abs" style="left:7px;top:9px" width="16" height="15" viewBox="0 0 16 15"><g fill="none" stroke="#ccc" stroke-width="2.2"><path d="M2 6.2 A6 6 0 0 1 12.6 3.6"/><path d="M14 8.8 A6 6 0 0 1 3.4 11.4"/></g><path d="M15 0.8 V6 H9.8Z M1 14.2 V9 H6.2Z" fill="#ccc"/></svg></div>
  <div class="abs tabs" style="left:20px;top:47px;height:32px;width:416px;border:1px solid #ddd;border-radius:3px 3px 0 0;background:#fff;white-space:nowrap;font-size:0;overflow:hidden">
    <span style="width:70px"><i style="display:inline-block;width:12px;height:12px;border-radius:6px;background:#9b59b6;vertical-align:-2px;margin-right:3.5px"></i>Tráfico</span><span style="width:95px"><i style="display:inline-block;width:12px;height:12px;border-radius:6px;background:#1a9d8a;vertical-align:-2px;margin-right:3.5px"></i>Conversión</span><span style="width:180px"><i style="display:inline-block;width:12px;height:12px;border-radius:6px;background:#3dbcec;vertical-align:-2px;margin-right:3.5px"></i>Valor promedio del carrito</span><span style="width:70px;border-right:0;background:#e3e3e3;box-shadow:inset 0 2px 4px rgba(0,0,0,0.15)"><i style="display:inline-block;width:12px;height:12px;border-radius:6px;background:#ff8a2b;vertical-align:-2px;margin-right:3.5px"></i>Ventas</span>
  </div>
</div>
<div class="panel" id="p-news" style="left:1623px;top:247px;width:269px;height:397px">
  <svg class="abs" style="left:8.5px;top:10.5px" width="11" height="11" viewBox="0 0 11 11"><circle cx="1.6" cy="9.4" r="1.6" fill="#555"/><path d="M0 4.6 A6.4 6.4 0 0 1 6.4 11 M0 0.9 A10.1 10.1 0 0 1 10.1 11" fill="none" stroke="#555" stroke-width="1.8"/></svg>
  <div class="heading" style="left:23.5px;transform:scaleX(0.74)">Noticias PrestaShop</div>
  <div class="hline"></div>
  <div class="ntitle" style="top:46.5px;transform:scaleX(0.795)">¿Cuáles son las diferentes etapas de una<br>empresa o negocio?</div>
  <div class="ndate" style="top:88px">09/09/2020</div>
  <div class="nbody" style="top:105px">¿Conoces cuáles son las diferentes<br>etapas de una empresa y cuántas tiene?<br><a>Leer más</a></div>
  <div class="abs" style="left:20px;top:172px;width:227px;height:1px;background:#eee"></div>
  <div class="ntitle" style="top:190px;transform:scaleX(0.785)">¿Qué es la Ley de Protección de Datos y<br>cómo aplicarla en tu eCommerce?</div>
  <div class="ndate" style="top:232px">08/09/2020</div>
  <div class="nbody" style="top:248.5px">¿Tienes un eCommerce y aún no eres<br>consciente de si tu negocio cumple<br>correctamente con la actual Ley de<br>Protección de Datos? <a>Leer más</a></div>
  <div class="abs" style="left:20px;top:333px;width:227px;height:1px;background:#eee"></div>
  <div class="ntitle" style="top:350.5px;left:89.7px;transform:scaleX(0.811)">Ver más noticias</div>
</div>
<div class="panel" id="p-tip" style="left:1623px;top:664px;width:269px;height:253px">
  <svg class="abs" style="left:9.3px;top:9.5px" width="7.6" height="11" viewBox="0 0 9 13"><path d="M4.5 0.7 A3.7 3.7 0 0 0 2.3 7.4 V9 H6.7 V7.4 A3.7 3.7 0 0 0 4.5 0.7Z" fill="none" stroke="#555" stroke-width="1.2"/><path d="M2.6 10.3 H6.4 M3.2 11.9 H5.8" stroke="#555" stroke-width="1.2"/></svg>
  <div class="heading" style="left:20.3px;transform:scaleX(0.744)">Consejo del día</div>
  <div class="hline"></div>
  <svg class="abs" style="left:153.9px;top:49.5px" width="22" height="24" viewBox="0 0 22 24">
    <path d="M5.500 12 C5 6.500 8.500 2 13.500 1.700 C16.500 1.600 18.500 2.600 18.400 4.200 C18.300 6 17.400 7.500 17.500 9 C20 10 21.500 12.500 21.300 15.500 C21 20 17.500 23.300 13.500 23.300 C9.500 23.300 6 20.500 5.800 16.500Z" fill="#0d0d0d"/>
    <ellipse cx="15.6" cy="15.3" rx="5" ry="6" fill="#fff"/>
    <ellipse cx="5.3" cy="5.8" rx="7.2" ry="2.3" transform="rotate(-47 5.300 5.800)" fill="#fff" stroke="#0d0d0d" stroke-width="1.1"/>
    <circle cx="4.6" cy="14.4" r="2.7" fill="#fff" stroke="#0d0d0d" stroke-width="1.3"/>
    <circle cx="4.6" cy="14.4" r="0.7" fill="#0d0d0d"/>
    <circle cx="13.7" cy="12.8" r="0.9" fill="#0d0d0d"/><circle cx="17.6" cy="12.8" r="0.9" fill="#0d0d0d"/>
    <path d="M12.200 10.800 C13.300 10 14.600 10.100 15.300 10.9" stroke="#0d0d0d" stroke-width="0.9" fill="none"/>
    <path d="M11.800 16.300 C13 19.300 18.300 19.300 19.600 15.900 C17.500 17.300 14 17.400 11.800 16.300Z" fill="#0d0d0d"/>
    <path d="M12.600 14.800 C14.500 15.800 17 15.800 19 14.6" stroke="#0d0d0d" stroke-width="0.8" fill="none"/>
  </svg>
  <div class="txt" style="left:178.6px;top:54.4px;font-size:11px;line-height:15px;font-weight:bold;color:#0d0d0d;letter-spacing:0.55px;-webkit-text-stroke:0.45px #0d0d0d">mailchimp</div>
  <div class="txt" style="left:20px;top:64.700px;font-size:12.45px;line-height:17px;font-weight:bold;color:#4a4a4a">Aumente el<br>compromiso y los ingresos<br>aprendiendo más sobre su audiencia</div>
  <div class="txt" style="left:20px;top:125px;font-size:12.5px;line-height:17px;color:#555">Cree correos electrónicos<br>personalizados y relevantes dirigidos a<br>su público en función de datos<br>demográficos como el sexo y la edad.</div>
  <div class="abs" style="left:31px;top:201px;width:217px;height:30px;border:1px solid #ddd;border-radius:3px;background:#fff"><div class="txt" style="left:8px;top:7px;font-size:12.55px;line-height:15px;color:#555">Vea cómo MailChimp puede ayudar</div></div>
</div>

</div>
</body>
</html>
